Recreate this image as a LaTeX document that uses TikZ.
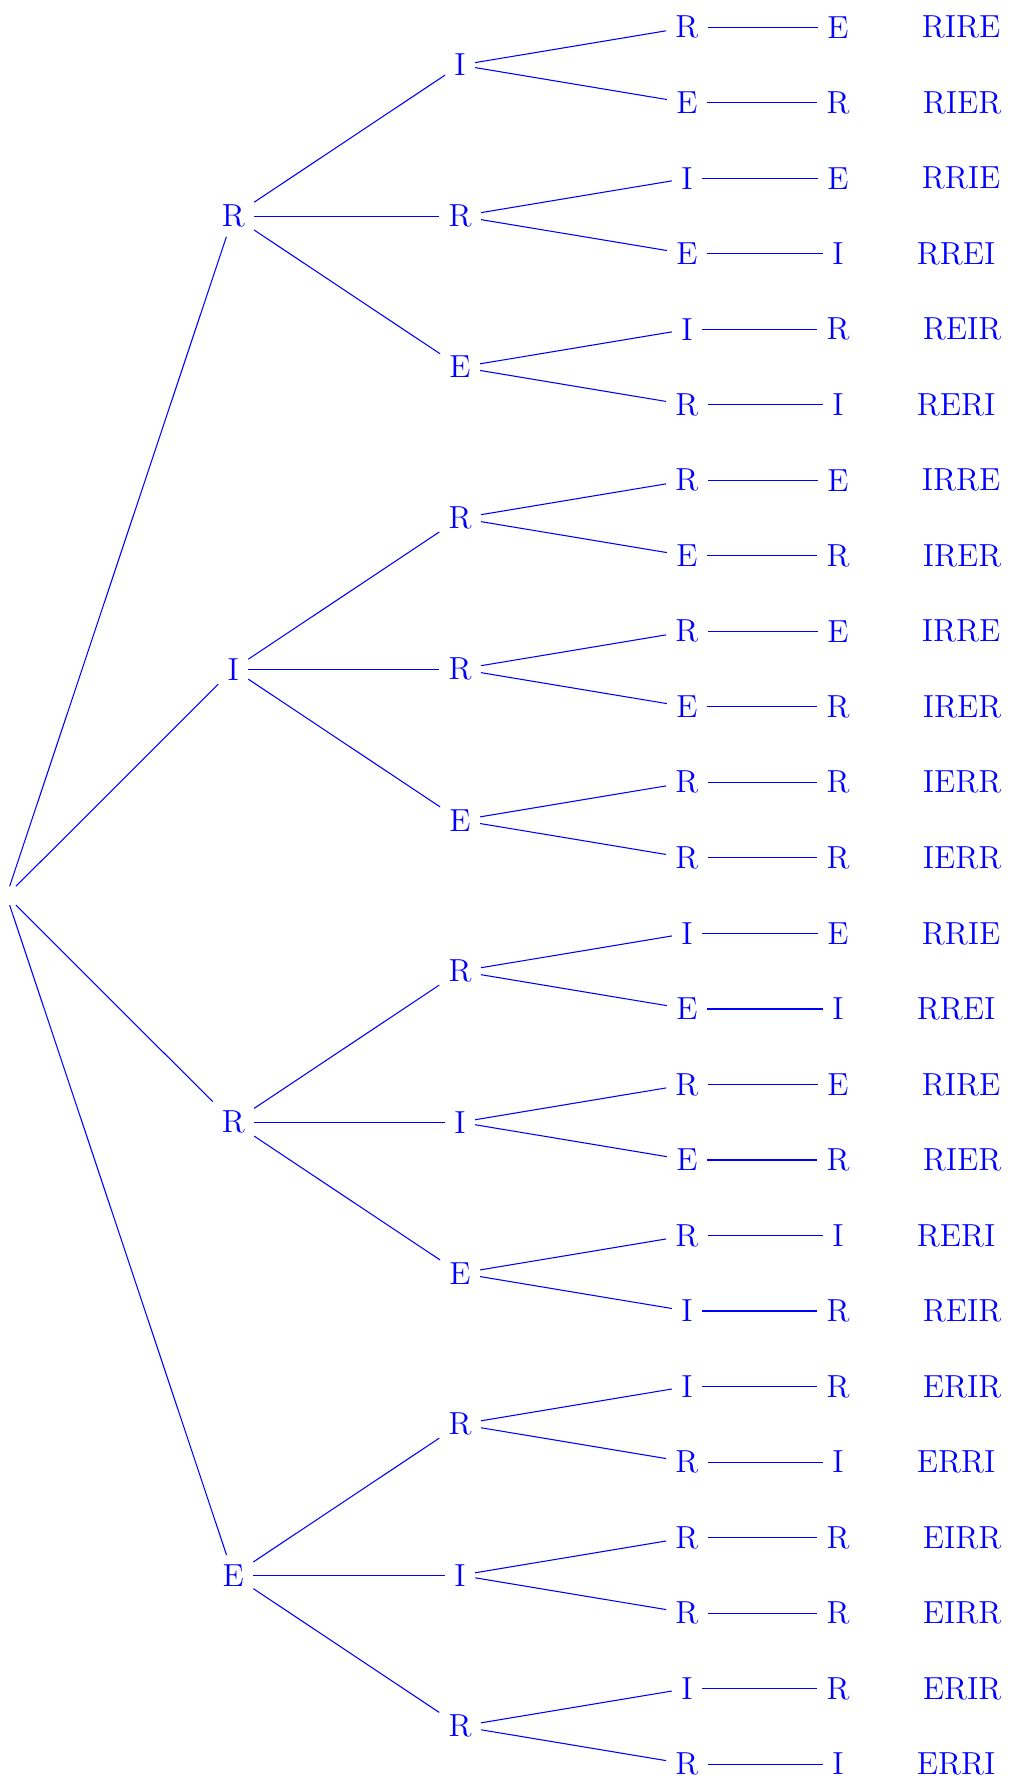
\documentclass[tikz,border=0pt]{standalone}
\begin{document}
\begin{tikzpicture}[x=1cm,y=0.9988cm,
  every node/.style={text=blue, font=\fontsize{12}{14.4}\selectfont},
  conn/.style={draw=blue, line width=0.4pt}]
\useasboundingbox (0,0) rectangle (13.373,-23.560);
\node (root) at (0.086,-11.862) {};
\foreach \t [count=\i from 0] in {R,I,R,E} {
  \node (a\i) at (3.086,{-(2.862+6*\i)}) {\t};
  \draw[conn] (root) -- (a\i);
}
\foreach \t [count=\j from 0] in {I,R,E,R,R,E,R,I,E,R,I,R} {
  \pgfmathtruncatemacro\p{int(\j/3)}
  \node (b\j) at (6.086,{-(0.862+2*\j)}) {\t};
  \draw[conn] (a\p) -- (b\j);
}
\foreach \u/\v/\w [count=\k from 0] in {R/E/RIRE, E/R/RIER, I/E/RRIE, E/I/RREI, I/R/REIR, R/I/RERI,
  R/E/IRRE, E/R/IRER, R/E/IRRE, E/R/IRER, R/R/IERR, R/R/IERR,
  I/E/RRIE, E/I/RREI, R/E/RIRE, E/R/RIER, R/I/RERI, I/R/REIR,
  I/R/ERIR, R/I/ERRI, R/R/EIRR, R/R/EIRR, I/R/ERIR, R/I/ERRI} {
  \pgfmathtruncatemacro\q{int(\k/2)}
  \node (c\k) at (9.086,{-(0.362+\k)}) {\u};
  \node (d\k) at (11.086,{-(0.362+\k)}) {\v};
  \node[anchor=west] (e\k) at ([xshift=0.72cm]d\k.east) {\w};
  \draw[conn] (b\q) -- (c\k);
  \draw[conn] (c\k) -- (d\k);
}
\end{tikzpicture}
\end{document}
